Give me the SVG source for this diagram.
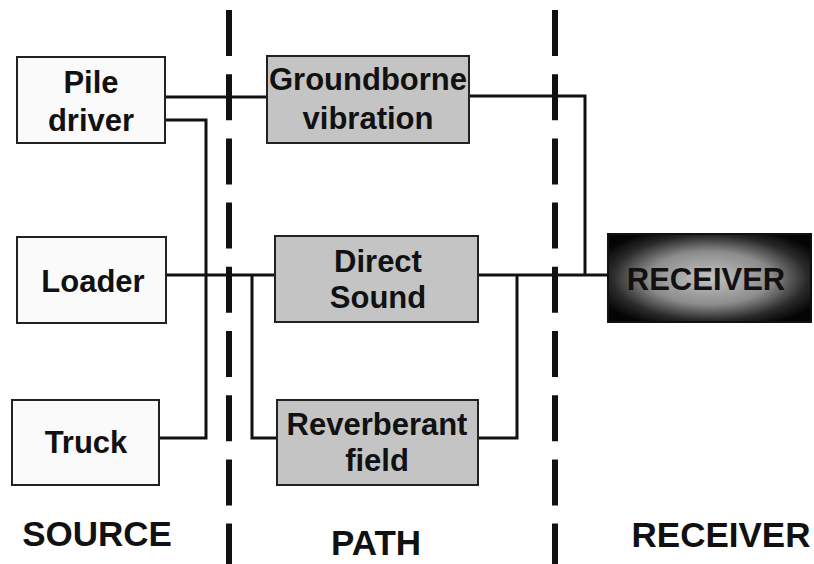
<svg xmlns="http://www.w3.org/2000/svg" width="814" height="564" viewBox="0 0 814 564">
<style>
  .src { fill: #fafafa; stroke: #222; stroke-width: 2; }
  .pth { fill: #c4c4c4; stroke: #222; stroke-width: 2; }
  .lbl { font-family: "Liberation Sans", Arial, sans-serif; font-weight: bold; font-size: 31px; fill: #111; text-anchor: middle; }
  .hdr { font-family: "Liberation Sans", Arial, sans-serif; font-weight: bold; font-size: 35px; fill: #111; text-anchor: middle; }
  .wire { fill: none; stroke: #111; stroke-width: 3; }
  .dash { stroke: #111; stroke-width: 6; stroke-dasharray: 46 18.2; }
</style>
<defs>
  <radialGradient id="rcvGrad" cx="50%" cy="50%" r="60%">
    <stop offset="0" stop-color="#c4c4c4"/>
    <stop offset="0.5" stop-color="#8c8c8c"/>
    <stop offset="0.8" stop-color="#2a2a2a"/>
    <stop offset="1" stop-color="#050505"/>
  </radialGradient>
</defs>

<g id="dividers">
  <line class="dash" x1="229" y1="10" x2="229" y2="564"/>
  <line class="dash" x1="555" y1="10" x2="555" y2="564"/>
</g>

<g id="connectors">
  <path class="wire" d="M165,97 H267"/>
  <path class="wire" d="M165,120 H206 V438 H159"/>
  <path class="wire" d="M166,275 H275"/>
  <path class="wire" d="M252,275 V438 H277"/>
  <path class="wire" d="M469,96 H585 V275"/>
  <path class="wire" d="M478,275 H608"/>
  <path class="wire" d="M517,275 V438 H478"/>
</g>

<g id="pile-driver">
  <rect class="src" x="17" y="57" width="148" height="86"/>
  <text class="lbl" x="91" y="93">Pile</text>
  <text class="lbl" x="91" y="131">driver</text>
</g>
<g id="loader">
  <rect class="src" x="17" y="237" width="149" height="86"/>
  <text class="lbl" x="93" y="292">Loader</text>
</g>
<g id="truck">
  <rect class="src" x="12" y="400" width="147" height="85"/>
  <text class="lbl" x="86" y="453">Truck</text>
</g>

<g id="groundborne">
  <rect class="pth" x="267" y="56" width="202" height="87"/>
  <text class="lbl" x="368" y="90">Groundborne</text>
  <text class="lbl" x="368" y="129">vibration</text>
</g>
<g id="direct-sound">
  <rect class="pth" x="275" y="236" width="203" height="86"/>
  <text class="lbl" x="378" y="272">Direct</text>
  <text class="lbl" x="378" y="308">Sound</text>
</g>
<g id="reverberant">
  <rect class="pth" x="277" y="400" width="201" height="85"/>
  <text class="lbl" x="377" y="435">Reverberant</text>
  <text class="lbl" x="377" y="471">field</text>
</g>

<g id="receiver">
  <rect x="608" y="234" width="203" height="88" fill="url(#rcvGrad)" stroke="#111" stroke-width="2"/>
  <text class="lbl" x="706" y="290" font-size="32">RECEIVER</text>
</g>

<g id="headers">
  <text class="hdr" x="97" y="546">SOURCE</text>
  <text class="hdr" x="376" y="555">PATH</text>
  <text class="hdr" x="721" y="547">RECEIVER</text>
</g>
</svg>
